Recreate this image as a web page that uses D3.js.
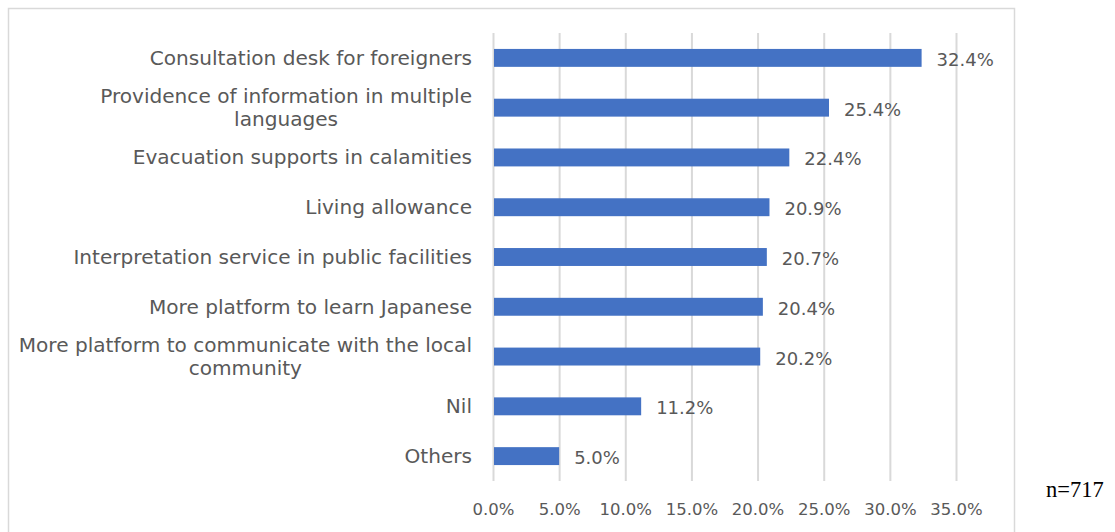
<!DOCTYPE html>
<html>
<head>
<meta charset="utf-8">
<script src="https://cdn.jsdelivr.net/npm/d3@7"></script>
<style>
  html, body { margin: 0; padding: 0; background: #fff; }
  svg { display: block; }
</style>
</head>
<body>
<svg id="chart" width="1115" height="532"></svg>
<script>
const categories = [
  ["Consultation desk for foreigners"],
  ["Providence of information in multiple", "languages"],
  ["Evacuation supports in calamities"],
  ["Living allowance"],
  ["Interpretation service in public facilities"],
  ["More platform to learn Japanese"],
  ["More platform to communicate with the local", "community"],
  ["Nil"],
  ["Others"]
];
const values = [32.4, 25.4, 22.4, 20.9, 20.7, 20.4, 20.2, 11.2, 5.0];
const xTicks = [0, 5, 10, 15, 20, 25, 30, 35];
const sampleNote = "n=717";

const svg = d3.select("#chart");
const plot = { left: 493, right: 956, top: 33, bottom: 481 };

// frame
svg.append("rect")
  .attr("x", 8.5).attr("y", 8.5)
  .attr("width", 1006).attr("height", 600)
  .attr("fill", "#fff").attr("stroke", "#d9d9d9").attr("stroke-width", 1.5);

const x = d3.scaleLinear().domain([0, 35]).range([plot.left, plot.right]);
const y = d3.scaleBand().domain(d3.range(categories.length))
  .range([plot.top, plot.bottom]).paddingInner(0.64).paddingOuter(0.32);

// gridlines + tick labels
const xAxis = d3.axisBottom(x).tickValues(xTicks)
  .tickSize(-(plot.bottom - plot.top)).tickFormat(d => d.toFixed(1) + "%");
const gx = svg.append("g").attr("transform", `translate(0,${plot.bottom})`).call(xAxis);
gx.select(".domain").remove();
gx.selectAll(".tick line").attr("stroke", "#d9d9d9").attr("stroke-width", 2);
gx.selectAll(".tick text")
  .attr("y", 34).attr("dy", 0)
  .attr("fill", "#595959")
  .style("font-family", "'DejaVu Sans', sans-serif")
  .style("font-size", "16.5px");

// bars
svg.append("g").selectAll("rect").data(values).enter().append("rect")
  .attr("x", x(0) + 1)
  .attr("y", (d, i) => y(i))
  .attr("width", d => x(d) - x(0) - 1)
  .attr("height", y.bandwidth())
  .attr("fill", "#4472C4");

// data labels
svg.append("g").selectAll("text").data(values).enter().append("text")
  .attr("x", d => x(d) + 15)
  .attr("y", (d, i) => y(i) + y.bandwidth() / 2 + 1.5)
  .attr("dominant-baseline", "central")
  .attr("fill", "#595959")
  .style("font-family", "'DejaVu Sans', sans-serif")
  .style("font-size", "18px")
  .text(d => d.toFixed(1) + "%");

// category labels
const labelRight = 472;
const gl = svg.append("g")
  .style("font-family", "'DejaVu Sans', sans-serif")
  .style("font-size", "20.1px")
  .attr("fill", "#595959");
categories.forEach((lines, i) => {
  const cy = y(i) + y.bandwidth() / 2;
  if (lines.length === 1) {
    gl.append("text").attr("x", labelRight).attr("y", cy)
      .attr("text-anchor", "end").attr("dominant-baseline", "central")
      .text(lines[0]);
  } else {
    const t1 = gl.append("text").attr("x", labelRight).attr("y", cy - 11.5)
      .attr("text-anchor", "end").attr("dominant-baseline", "central")
      .text(lines[0]);
    const w1 = t1.node().getComputedTextLength();
    gl.append("text").attr("x", labelRight - w1 / 2).attr("y", cy + 11.5)
      .attr("text-anchor", "middle").attr("dominant-baseline", "central")
      .text(lines[1]);
  }
});

// n note
svg.append("text")
  .attr("x", 1046).attr("y", 497)
  .attr("fill", "#000")
  .style("font-family", "'Liberation Serif', 'Times New Roman', serif")
  .style("font-size", "22.5px")
  .text(sampleNote);
</script>
</body>
</html>
